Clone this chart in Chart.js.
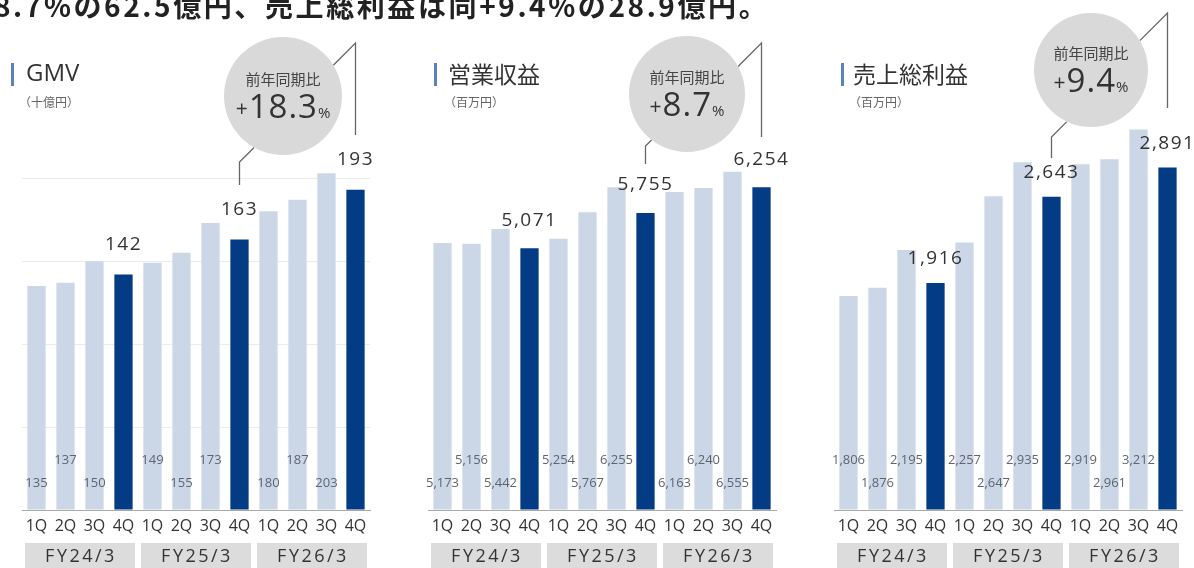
<!DOCTYPE html>
<html lang="ja">
<head>
<meta charset="utf-8">
<script src="https://cdn.jsdelivr.net/npm/chart.js@4.4.1/dist/chart.umd.min.js"></script>
<style>
  body { margin:0; background:#fff; width:1194px; height:568px; overflow:hidden; position:relative; }
  .lead { position:absolute; left:-6px; top:-9px; font:bold 28px/28px 'Noto Sans CJK JP', sans-serif; letter-spacing:2.6px; color:#222; white-space:nowrap; z-index:2; }
  .panel { position:absolute; top:0; width:398px; height:568px; }
</style>
</head>
<body>
<div class="lead">8.7%の62.5億円、売上総利益は同+9.4%の28.9億円。</div>
<div class="panel" style="left:0"><canvas id="c1" width="398" height="568"></canvas></div>
<div class="panel" style="left:398px"><canvas id="c2" width="398" height="568"></canvas></div>
<div class="panel" style="left:796px"><canvas id="c3" width="398" height="568"></canvas></div>
<script>
// 四半期ラベルと年度
var quarters = ['1Q','2Q','3Q','4Q','1Q','2Q','3Q','4Q','1Q','2Q','3Q','4Q'];
var fiscalYears = ['FY24/3','FY25/3','FY26/3'];

// 各指標（FY24/3 1Q 〜 FY26/3 4Q）
var gmv = [135,137,150,142, 149,155,173,163, 180,187,203,193];          // 十億円
var eigyoShueki = [5173,5156,5442,5071, 5254,5767,6255,5755, 6163,6240,6555,6254]; // 百万円
var uriageRieki = [1806,1876,2195,1916, 2257,2647,2935,2643, 2919,2961,3212,2891]; // 百万円

var titles = ['GMV','営業収益','売上総利益'];
var units = ['（十億円）','（百万円）','（百万円）'];
var yoyRates = ['18.3','8.7','9.4'];   // 4Q 前年同期比 (%)

var LIGHT = '#cbd7e6', DARK = '#033b84';
var JP = "'Noto Sans CJK JP', sans-serif";
var NUM = "'Open Sans', 'Noto Sans', sans-serif";

// レイアウト（キャンバス内座標）
var panels = [
  { id:'c1', values:gmv, max:220, step:50, pad:{left:22,right:28,top:145},
    markX:11, titleX:26, unitX:19, lift:30,
    circle:{x:283,y:96,r:59}, hiTop:43, loKnee:162, loEnd:185, hiEnd:135,
    rows:[1,0,1,0,0,1,0,0,1,0,1,0] },
  { id:'c2', values:eigyoShueki, max:6800, step:1000, pad:{left:30,right:20,top:159},
    markX:36, titleX:50, unitX:46, lift:28,
    circle:{x:289,y:94,r:58}, hiTop:43, loKnee:146, loEnd:164, hiEnd:137,
    rows:[1,0,1,0,0,1,0,0,1,0,1,0] },
  { id:'c3', values:uriageRieki, max:3300, step:500, pad:{left:38,right:12,top:119},
    markX:45, titleX:57, unitX:53, lift:24,
    circle:{x:295,y:70,r:57}, hiTop:13, loKnee:137, loEnd:158, hiEnd:108,
    rows:[0,1,0,0,0,1,0,0,0,1,0,0] }
];

function txt(ctx, s, x, y, font, color, align, spacing) {
  ctx.font = font;
  ctx.fillStyle = color;
  ctx.textAlign = align || 'center';
  ctx.textBaseline = 'middle';
  ctx.letterSpacing = spacing || '0px';
  ctx.fillText(s, x, y);
  ctx.letterSpacing = '0px';
}

function deco(p, idx) {
  return {
    id: 'deco' + idx,
    afterDatasetsDraw: function (chart) {
      var ctx = chart.ctx, xs = chart.scales.x, ys = chart.scales.y;
      var vals = p.values;
      ctx.save();

      // 見出し
      ctx.fillStyle = '#5b82b9';
      ctx.fillRect(p.markX, 63, 3, 23);
      txt(ctx, titles[idx], p.titleX, 74, idx === 0 ? '24px ' + NUM : '23px ' + JP, '#333', 'left');
      txt(ctx, units[idx], p.unitX, 102, '12px ' + JP, '#666', 'left');

      // 棒の下部の値（1Q〜3Q）
      for (var i = 0; i < vals.length; i++) {
        if (i % 4 === 3) continue;
        var yy = p.rows[i] ? 483 : 460;
        txt(ctx, vals[i].toLocaleString('en-US'), xs.getPixelForValue(i), yy, '13px ' + NUM, '#5f6570');
      }

      // 4Q の値
      var lab = [];
      for (var i = 3; i < vals.length; i += 4) {
        var bx = xs.getPixelForValue(i);
        var ly = ys.getPixelForValue(vals[i]) - p.lift;
        lab.push({ x: bx, y: ly });
        txt(ctx, vals[i].toLocaleString('en-US'), bx, ly, '19px ' + NUM, '#333', 'center', '1.5px');
      }

      // 前年同期比の吹き出し
      var c = p.circle;
      ctx.strokeStyle = '#666';
      ctx.lineWidth = 1.3;
      // 左下: FY25/3 4Q へ
      var k1 = lab[1].x;
      var d1 = edgeToward(c, k1, p.loKnee, -1);
      ctx.beginPath();
      ctx.moveTo(d1.x, d1.y);
      ctx.lineTo(k1, p.loKnee);
      ctx.lineTo(k1, p.loEnd);
      ctx.stroke();
      // 右上: FY26/3 4Q へ
      var k2 = lab[2].x;
      var d2 = edgeToward(c, k2, p.hiTop, 1);
      ctx.beginPath();
      ctx.moveTo(d2.x, d2.y);
      ctx.lineTo(k2, p.hiTop);
      ctx.lineTo(k2, p.hiEnd);
      ctx.stroke();

      ctx.fillStyle = '#d9d9d9';
      ctx.beginPath();
      ctx.arc(c.x, c.y, c.r, 0, Math.PI * 2);
      ctx.fill();
      txt(ctx, '前年同期比', c.x, c.y - 17, '15px ' + JP, '#444');

      var big = '33px ' + NUM, small1 = '21px ' + NUM, small2 = '15px ' + NUM;
      ctx.textBaseline = 'alphabetic';
      ctx.font = small1; var w1 = ctx.measureText('+').width + 1;
      ctx.font = big; ctx.letterSpacing = '1px'; var w2 = ctx.measureText(yoyRates[idx]).width;
      ctx.font = small2; ctx.letterSpacing = '0px'; var w3 = ctx.measureText('%').width;
      var sx = c.x - (w1 + w2 + w3) / 2, base = c.y + 22;
      ctx.fillStyle = '#333';
      ctx.textAlign = 'left';
      ctx.font = small1; ctx.fillText('+', sx, base - 2);
      ctx.font = big; ctx.letterSpacing = '1px'; ctx.fillText(yoyRates[idx], sx + w1, base);
      ctx.font = small2; ctx.letterSpacing = '0px'; ctx.fillText('%', sx + w1 + w2, base);

      // 年度ボックス
      var cw = xs.getPixelForValue(1) - xs.getPixelForValue(0);
      for (var g = 0; g < 3; g++) {
        var x0 = xs.getPixelForValue(g * 4) - cw / 2;
        var x1 = xs.getPixelForValue(g * 4 + 3) + cw / 2;
        ctx.fillStyle = '#dcdcdc';
        ctx.fillRect(x0 + 3, 543, x1 - x0 - 6, 30);
        txt(ctx, fiscalYears[g], (x0 + x1) / 2 + 1, 557, '18px ' + NUM, '#333', 'center', '2.5px');
      }
      ctx.restore();
    }
  };
}

// 45度の引き出し線が円周と交わる点
function edgeToward(c, kx, ky, dir) {
  var ux = dir < 0 ? Math.SQRT1_2 : -Math.SQRT1_2;
  var uy = dir < 0 ? -Math.SQRT1_2 : Math.SQRT1_2;
  var fx = kx - c.x, fy = ky - c.y;
  var b = fx * ux + fy * uy, cc = fx * fx + fy * fy - c.r * c.r;
  var t = -b - Math.sqrt(Math.max(0, b * b - cc));
  return { x: kx + ux * t, y: ky + uy * t };
}

panels.forEach(function (p, idx) {
  new Chart(document.getElementById(p.id), {
    type: 'bar',
    data: {
      labels: quarters,
      datasets: [{
        data: p.values,
        backgroundColor: p.values.map(function (v, i) { return i % 4 === 3 ? DARK : LIGHT; }),
        borderWidth: 0,
        categoryPercentage: 1,
        barPercentage: 0.63
      }]
    },
    options: {
      responsive: false,
      animation: false,
      layout: { padding: { left: p.pad.left, right: p.pad.right, top: p.pad.top, bottom: 0 } },
      plugins: { legend: { display: false }, tooltip: { enabled: false } },
      scales: {
        x: {
          grid: { display: false, drawTicks: false },
          border: { color: '#a8a8a8', width: 1 },
          ticks: { color: '#333', font: { family: NUM, size: 16 }, padding: 7, maxRotation: 0, autoSkip: false },
          afterFit: function (s) { s.height = 58; }
        },
        y: {
          min: 0, max: p.max,
          ticks: { display: false, stepSize: p.step },
          border: { display: false },
          grid: {
            drawTicks: false,
            color: function (c) {
              var v = c.tick ? c.tick.value : 0;
              return (v > 0 && v % p.step === 0) ? '#ebebeb' : 'rgba(0,0,0,0)';
            }
          },
          afterFit: function (s) { s.width = 0; }
        }
      }
    },
    plugins: [deco(p, idx)]
  });
});
</script>
</body>
</html>
